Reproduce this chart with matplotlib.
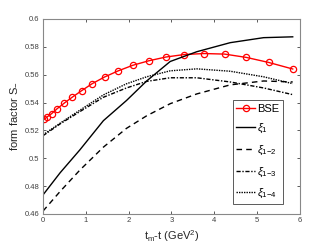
import matplotlib
matplotlib.use("Agg")
import matplotlib.pyplot as plt
from matplotlib.ticker import FuncFormatter

plt.rcParams['font.family'] = ['Liberation Sans', 'DejaVu Sans']
plt.rcParams['mathtext.fontset'] = 'custom'
plt.rcParams['mathtext.rm'] = 'Liberation Sans'
plt.rcParams['mathtext.it'] = 'Liberation Sans:italic'

# BSE result
bse_t = [0.03, 0.1, 0.2, 0.33, 0.5, 0.68, 0.9, 1.15, 1.44, 1.75, 2.1, 2.47,
         2.87, 3.3, 3.76, 4.24, 4.75, 5.27, 5.83]
bse_s = [0.528, 0.5298, 0.532, 0.5356, 0.5397, 0.5438, 0.5485, 0.5536, 0.5584,
         0.5627, 0.5668, 0.570, 0.5727, 0.5745, 0.5752, 0.5748, 0.5724, 0.5688, 0.5641]

# fits
t_fit = [0.0, 0.4, 0.86, 1.41, 1.95, 2.42, 2.97, 3.59, 4.37, 5.15, 5.83]
xi1 = [0.4737, 0.4896, 0.506, 0.527, 0.5415, 0.5555, 0.5695, 0.5765, 0.583, 0.5866, 0.5872]
xi12 = [0.4621, 0.4762, 0.4915, 0.508, 0.5215, 0.5305, 0.5392, 0.5462, 0.5527, 0.5555, 0.5548]
xi13 = [0.5162, 0.5247, 0.5335, 0.5438, 0.5505, 0.5552, 0.5578, 0.5578, 0.5548, 0.5505, 0.5457]
xi14 = [0.5168, 0.5252, 0.5345, 0.5455, 0.5535, 0.5585, 0.5628, 0.5642, 0.5625, 0.5585, 0.5536]

fig = plt.figure(figsize=(3.32, 2.49), dpi=100)
ax = fig.add_axes([0.1295, 0.1406, 0.7741, 0.7831])

ax.plot(bse_t, bse_s, '-o', color='red', lw=1.0, ms=4.5, mfc='none', mew=0.9, label='BSE')
ax.plot(t_fit, xi1, '-', color='black', lw=1.0, label=r'$\xi_{1}$')
ax.plot(t_fit, xi12, '--', color='black', lw=1.0, dashes=(4, 3), label=r'$\xi_{1\mathrm{-}2}$')
ax.plot(t_fit, xi13, '-.', color='black', lw=1.0, dashes=(3, 1.2, 1, 1.2), label=r'$\xi_{1\mathrm{-}3}$')
ax.plot(t_fit, xi14, ':', color='black', lw=1.0, dashes=(1, 0.8), label=r'$\xi_{1\mathrm{-}4}$')

ax.set_xlim(0, 6)
ax.set_ylim(0.46, 0.6)
ax.set_xticks(range(0, 7))
ax.set_yticks([0.46, 0.48, 0.5, 0.52, 0.54, 0.56, 0.58, 0.6])
ax.yaxis.set_major_formatter(FuncFormatter(lambda v, p: ('%.2f' % v).rstrip('0')))
ax.tick_params(direction='in', length=2.5, width=0.6, labelsize=5.5, colors='#404040',
               top=True, right=True, pad=2.5)
for s in ax.spines.values():
    s.set_color('#888888')
    s.set_linewidth(0.8)

ax.set_xlabel(r'$\mathrm{t_m}$-t (GeV$^2$)', fontsize=8, color='#262626', labelpad=3)
ax.set_ylabel(r'form factor S$_{-}$', fontsize=8, color='#262626', labelpad=4)

leg = ax.legend(loc='lower right', bbox_to_anchor=(0.934, 0.051), fontsize=8,
                fancybox=False, framealpha=1, edgecolor='#404040', handlelength=1.7,
                handletextpad=0.15, borderpad=0.35, labelspacing=0.75, borderaxespad=0)
leg.get_frame().set_linewidth(0.6)

fig.savefig('out.png', dpi=100)
